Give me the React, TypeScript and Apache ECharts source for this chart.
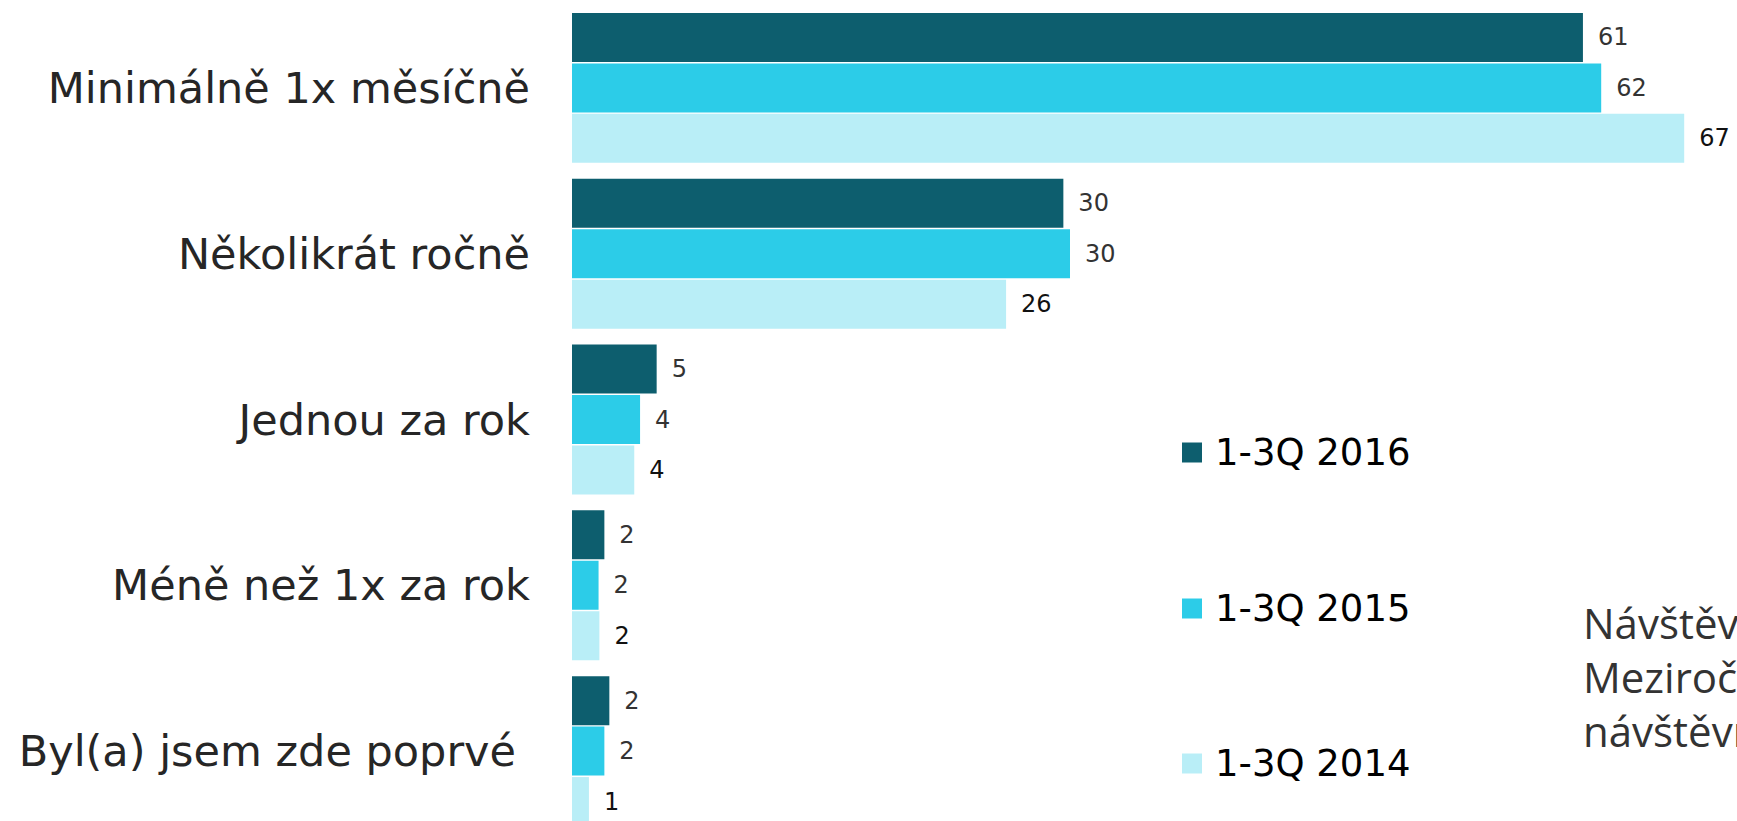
import React, { useEffect, useRef } from "react";
import * as echarts from "echarts";

const categories = [
  "Minimálně 1x měsíčně",
  "Několikrát ročně",
  "Jednou za rok",
  "Méně než 1x za rok",
  "Byl(a) jsem zde poprvé",
];
const seriesNames = ["1-3Q 2016", "1-3Q 2015", "1-3Q 2014"];
const values2016 = [60.9, 29.6, 5.1, 1.95, 2.25];
const values2015 = [62.0, 30.0, 4.1, 1.6, 1.95];
const values2014 = [67.0, 26.15, 3.75, 1.65, 1.02];
const sideText = ["Návštěvnost", "Meziročně", "návštěvnost"];

const colors = ["#0D5E6E", "#2CCCE8", "#B9EEF7"];
const labelColors = ["#333333", "#333333", "#111111"];

export default function App() {
  const ref = useRef<HTMLDivElement>(null);
  useEffect(() => {
    if (!ref.current) return;
    const chart = echarts.init(ref.current, null, { renderer: "svg" });
    const data = [values2016, values2015, values2014];
    const legendTops = [434, 590, 745];
    chart.setOption({
      animation: false,
      backgroundColor: "#ffffff",
      grid: {
        left: 572,
        top: 5,
        width: 1162,
        height: 829,
        containLabel: false,
        outerBoundsMode: "none",
      },
      xAxis: {
        type: "value",
        min: 0,
        max: 70,
        show: false,
      },
      yAxis: {
        type: "category",
        inverse: true,
        data: categories.map((c, i) =>
          i === categories.length - 1
            ? { value: c, textStyle: { padding: [12, 14, 0, 0] } }
            : c
        ),
        axisLine: { show: false },
        axisTick: { show: false },
        splitLine: { show: false },
        axisLabel: {
          margin: 42,
          fontFamily: "DejaVu Sans",
          fontSize: 43,
          color: "#262626",
        },
      },
      legend: seriesNames.map((n, i) => ({
        data: [n],
        left: 1182,
        top: legendTops[i],
        padding: 0,
        orient: "vertical",
        icon: "rect",
        itemWidth: 20,
        itemHeight: 20,
        selectedMode: false,
        textStyle: {
          fontFamily: "DejaVu Sans",
          fontSize: 37,
          color: "#000000",
          padding: [0, 0, 0, 8],
        },
      })),
      series: seriesNames.map((n, i) => ({
        name: n,
        type: "bar",
        data: data[i],
        barWidth: 49,
        barGap: "3%",
        itemStyle: { color: colors[i] },
        label: {
          show: true,
          position: "right",
          distance: 15,
          fontFamily: "DejaVu Sans",
          fontSize: 24,
          color: labelColors[i],
          formatter: (p: any) => String(Math.round(p.value)),
        },
      })),
      graphic: sideText.map((t, i) => ({
        type: "text",
        left: 1583,
        top: 601 + i * 54,
        style: {
          text: t,
          fontFamily: "Open Sans",
          fontSize: 42,
          fill: "#333333",
        },
      })),
    });
    return () => chart.dispose();
  }, []);
  return (
    <div
      ref={ref}
      style={{ position: "fixed", left: 0, top: 0, width: 1737, height: 821 }}
    />
  );
}
